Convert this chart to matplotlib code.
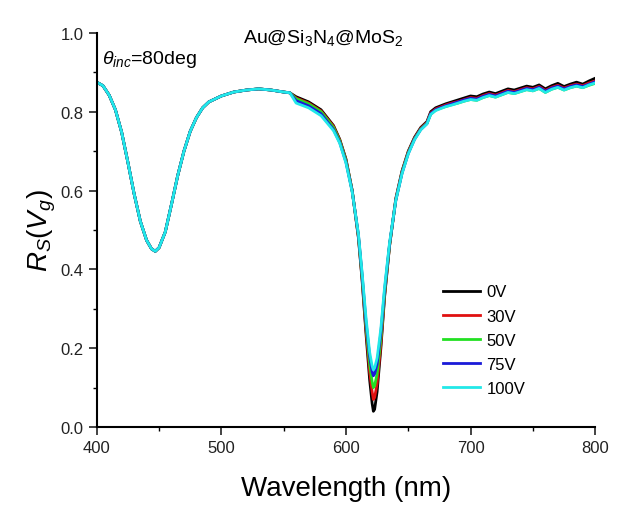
import numpy as np
import matplotlib
matplotlib.use('Agg')
import matplotlib.pyplot as plt

plt.rcParams['font.family'] = ['Liberation Sans', 'DejaVu Sans']
plt.rcParams['mathtext.fontset'] = 'custom'
plt.rcParams['mathtext.rm'] = 'Liberation Sans'
plt.rcParams['mathtext.it'] = 'Liberation Sans:italic'

# shared part of the spectrum (all gate voltages overlap here)
wl_common = [400, 405, 410, 415, 420, 425, 430, 435, 440, 444, 447, 450, 455, 460,
             465, 470, 475, 480, 485, 490, 500, 510, 520, 530, 540, 550, 555]
r_common = [0.875, 0.866, 0.842, 0.805, 0.748, 0.672, 0.592, 0.522, 0.474, 0.452,
            0.446, 0.455, 0.495, 0.565, 0.638, 0.700, 0.750, 0.785, 0.810, 0.825,
            0.840, 0.850, 0.855, 0.858, 0.855, 0.850, 0.848]

# second part of the spectrum, one list per gate voltage
wl_right = [560, 570, 580, 590, 595, 600, 605, 610, 613, 616, 619, 621, 622, 623,
            625, 628, 631, 635, 640, 645, 650, 655, 660, 665, 668, 672, 676, 680,
            685, 690, 695, 700, 705, 710, 715, 720, 725, 730, 735, 740, 745, 750,
            755, 760, 765, 770, 775, 780, 785, 790, 795, 800]
r_0V = [0.838, 0.825, 0.805, 0.765, 0.730, 0.680, 0.600, 0.480, 0.370, 0.240,
        0.120, 0.060, 0.040, 0.045, 0.090, 0.200, 0.330, 0.460, 0.580, 0.650,
        0.700, 0.735, 0.760, 0.775, 0.800, 0.810, 0.815, 0.820, 0.825, 0.830,
        0.835, 0.840, 0.838, 0.845, 0.850, 0.846, 0.852, 0.858, 0.855, 0.860,
        0.865, 0.862, 0.868, 0.858, 0.866, 0.872, 0.864, 0.870, 0.875, 0.870,
        0.878, 0.885]
r_30V = [0.835, 0.822, 0.802, 0.763, 0.728, 0.678, 0.600, 0.482, 0.375, 0.250,
         0.140, 0.090, 0.070, 0.075, 0.110, 0.210, 0.335, 0.460, 0.578, 0.648,
         0.698, 0.733, 0.758, 0.773, 0.797, 0.807, 0.812, 0.817, 0.822, 0.826,
         0.831, 0.836, 0.834, 0.841, 0.846, 0.842, 0.848, 0.854, 0.851, 0.856,
         0.861, 0.858, 0.864, 0.854, 0.862, 0.867, 0.860, 0.866, 0.870, 0.866,
         0.873, 0.878]
r_50V = [0.833, 0.820, 0.800, 0.760, 0.726, 0.676, 0.600, 0.485, 0.380, 0.260,
         0.160, 0.115, 0.100, 0.105, 0.135, 0.225, 0.340, 0.462, 0.576, 0.646,
         0.696, 0.731, 0.756, 0.771, 0.794, 0.804, 0.809, 0.813, 0.818, 0.822,
         0.827, 0.831, 0.829, 0.836, 0.841, 0.837, 0.843, 0.849, 0.846, 0.851,
         0.856, 0.853, 0.859, 0.849, 0.857, 0.862, 0.855, 0.861, 0.865, 0.861,
         0.867, 0.872]
r_75V = [0.828, 0.815, 0.795, 0.755, 0.722, 0.672, 0.598, 0.488, 0.385, 0.270,
         0.180, 0.140, 0.130, 0.135, 0.160, 0.240, 0.348, 0.465, 0.575, 0.644,
         0.694, 0.730, 0.755, 0.770, 0.795, 0.805, 0.810, 0.815, 0.820, 0.825,
         0.830, 0.834, 0.832, 0.839, 0.844, 0.840, 0.846, 0.852, 0.849, 0.854,
         0.859, 0.856, 0.862, 0.852, 0.860, 0.865, 0.858, 0.864, 0.868, 0.864,
         0.870, 0.876]
r_100V = [0.822, 0.810, 0.790, 0.752, 0.720, 0.670, 0.596, 0.490, 0.390, 0.280,
          0.190, 0.155, 0.145, 0.150, 0.175, 0.250, 0.355, 0.468, 0.575, 0.643,
          0.693, 0.729, 0.754, 0.769, 0.793, 0.803, 0.808, 0.813, 0.817, 0.822,
          0.827, 0.831, 0.829, 0.836, 0.841, 0.837, 0.843, 0.849, 0.846, 0.851,
          0.856, 0.853, 0.859, 0.849, 0.857, 0.862, 0.855, 0.861, 0.865, 0.861,
          0.868, 0.873]

labels = ['0V', '30V', '50V', '75V', '100V']
colors = ['#000000', '#e01010', '#22e022', '#1a1ad8', '#22e8e8']
series = [r_0V, r_30V, r_50V, r_75V, r_100V]

fig = plt.figure(figsize=(6.2, 5.06), dpi=100)
ax = fig.add_axes([0.156, 0.154, 0.804, 0.779])

for r, c, lab in zip(series, colors, labels):
    ax.plot(wl_common + wl_right, r_common + r, color=c, lw=2, label=lab)

ax.set_xlim(400, 800)
ax.set_ylim(0.0, 1.0)
ax.set_xticks([400, 500, 600, 700, 800])
ax.set_xticks([450, 550, 650, 750], minor=True)
ax.set_yticks([0.0, 0.2, 0.4, 0.6, 0.8, 1.0])
ax.set_yticks([0.1, 0.3, 0.5, 0.7, 0.9], minor=True)
ax.spines['top'].set_visible(False)
ax.spines['right'].set_visible(False)
ax.spines['left'].set_linewidth(1.5)
ax.spines['bottom'].set_linewidth(1.5)
ax.tick_params(which='major', direction='out', length=6, width=1.2, labelsize=12,
               colors='#222222')
ax.tick_params(which='minor', direction='out', length=3, width=1.0)

ax.set_xlabel('Wavelength (nm)', fontsize=20, labelpad=14)
ax.set_ylabel('$R_S(V_g)$', fontsize=20, labelpad=2)

ax.text(0.455, 0.99, 'Au@Si$_3$N$_4$@MoS$_2$', transform=ax.transAxes,
        ha='center', va='center', fontsize=14)
ax.text(0.01, 0.935, r'$\theta_{inc}$=80deg', transform=ax.transAxes,
        ha='left', va='center', fontsize=14)

ax.legend(loc='upper left', bbox_to_anchor=(0.665, 0.40), frameon=False,
          fontsize=12, handlelength=2.2, handletextpad=0.4, labelspacing=0.55)

fig.savefig('out.png', dpi=100)
